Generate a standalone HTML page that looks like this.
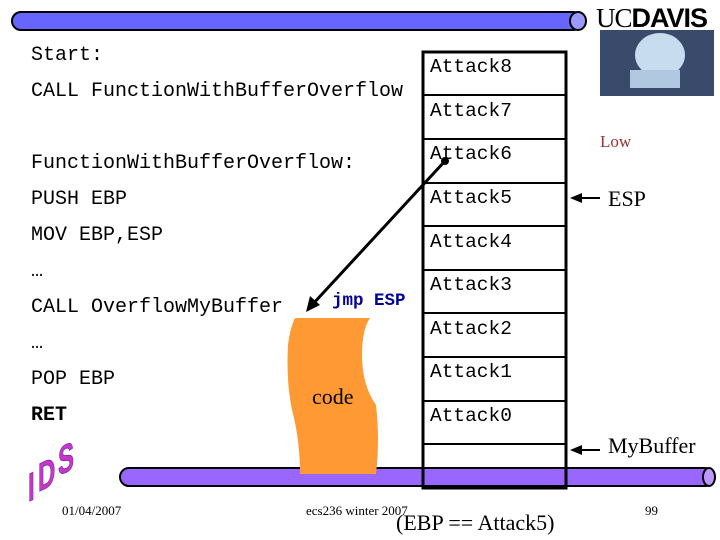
<html><head><style>
body{margin:0;width:720px;height:540px;background:#fff;position:relative;overflow:hidden;font-family:"Liberation Mono",monospace}
.t{position:absolute;font-size:20px;color:#000;white-space:nowrap}
.a{position:absolute;font-size:19.5px;color:#000;white-space:nowrap}
.s{position:absolute;font-family:"Liberation Serif",serif;white-space:nowrap}
</style></head><body>
<svg width="720" height="540" style="position:absolute;left:0;top:0">
<rect x="12" y="12" width="570" height="18" rx="9" fill="#6666ff" stroke="#000" stroke-width="2"/>
<ellipse cx="578" cy="21" rx="8" ry="9" fill="#9999ff" stroke="#000" stroke-width="2"/>
<rect x="120" y="468" width="594" height="18" rx="9" fill="#9966ff" stroke="#000" stroke-width="2"/>
<ellipse cx="709" cy="477" rx="6" ry="9" fill="#bb99ff" stroke="#000" stroke-width="2"/>
<path d="M295,318 L370,318 Q362,330 362,355 Q362,385 376,405 Q380,440 376,474 L300,474 Q300,440 292,410 Q286,380 288,345 Q290,328 295,318 Z" fill="#ff9933"/>
<rect x="423" y="52" width="143" height="436" fill="none" stroke="#000" stroke-width="3"/>
<g stroke="#000" stroke-width="2">
<line x1="423" y1="95" x2="566" y2="95"/><line x1="423" y1="139" x2="566" y2="139"/>
<line x1="423" y1="183" x2="566" y2="183"/><line x1="423" y1="226" x2="566" y2="226"/>
<line x1="423" y1="270" x2="566" y2="270"/><line x1="423" y1="313" x2="566" y2="313"/>
<line x1="423" y1="357" x2="566" y2="357"/><line x1="423" y1="401" x2="566" y2="401"/>
<line x1="423" y1="444" x2="566" y2="444"/>
<line x1="445" y1="161" x2="312" y2="305" stroke-width="3"/>
<line x1="580" y1="198" x2="600" y2="198"/>
<line x1="580" y1="450" x2="600" y2="450"/>
</g>
<circle cx="445" cy="161" r="4" fill="#000"/>
<polygon points="306,312 310,296 320,305" fill="#000"/>
<polygon points="570,198 582,193 582,203" fill="#000"/>
<polygon points="570,450 582,445 582,455" fill="#000"/>
<rect x="600" y="30" width="114" height="66" fill="#3a4a6a"/>
<ellipse cx="660" cy="55" rx="25" ry="22" fill="#c8dcf0"/>
<rect x="630" y="70" width="50" height="18" fill="#b0c8e0"/>
<g font-family="Liberation Sans,sans-serif" font-weight="bold" font-size="40" fill="#cc33cc" stroke="#663399" stroke-width="0.8">
<text transform="translate(28,502) skewY(-25) scale(0.6,1)">I</text>
<text transform="translate(38,492) skewY(-25) scale(0.6,1)">D</text>
<text transform="translate(58,476) skewY(-25) scale(0.6,1)">S</text>
</g>
</svg>
<div class="s" style="left:596px;top:3px;font-size:27px;letter-spacing:-1px"><span style="font-family:'Liberation Serif',serif">UC</span><b style="font-family:'Liberation Sans',sans-serif">DAVIS</b></div>
<div class="t" style="left:31px;top:44px">Start:</div>
<div class="t" style="left:31px;top:80px">CALL FunctionWithBufferOverflow</div>
<div class="t" style="left:31px;top:152px">FunctionWithBufferOverflow:</div>
<div class="t" style="left:31px;top:188px">PUSH EBP</div>
<div class="t" style="left:31px;top:224px">MOV EBP,ESP</div>
<div class="t" style="left:31px;top:260px">…</div>
<div class="t" style="left:31px;top:296px">CALL OverflowMyBuffer</div>
<div class="t" style="left:31px;top:332px">…</div>
<div class="t" style="left:31px;top:368px">POP EBP</div>
<div class="t" style="left:31px;top:404px;font-weight:bold">RET</div>
<div class="t" style="left:332px;top:291px;font-size:17.5px;font-weight:bold;color:#000099">jmp ESP</div>
<div class="s" style="left:312px;top:384px;font-size:22px">code</div>
<div class="a" style="left:430px;top:56px">Attack8</div>
<div class="a" style="left:430px;top:100px">Attack7</div>
<div class="a" style="left:430px;top:143px">Attack6</div>
<div class="a" style="left:430px;top:187px">Attack5</div>
<div class="a" style="left:430px;top:231px">Attack4</div>
<div class="a" style="left:430px;top:274px">Attack3</div>
<div class="a" style="left:430px;top:318px">Attack2</div>
<div class="a" style="left:430px;top:361px">Attack1</div>
<div class="a" style="left:430px;top:405px">Attack0</div>
<div class="s" style="left:600px;top:132px;font-size:17px;color:#993333">Low</div>
<div class="s" style="left:608px;top:186px;font-size:22px">ESP</div>
<div class="s" style="left:608px;top:433px;font-size:22px">MyBuffer</div>
<div class="s" style="left:62px;top:503px;font-size:13px">01/04/2007</div>
<div class="s" style="left:306px;top:503px;font-size:13px">ecs236 winter 2007</div>
<div class="s" style="left:645px;top:503px;font-size:13px">99</div>
<div class="s" style="left:396px;top:510px;font-size:22px">(EBP == Attack5)</div>
</body></html>
